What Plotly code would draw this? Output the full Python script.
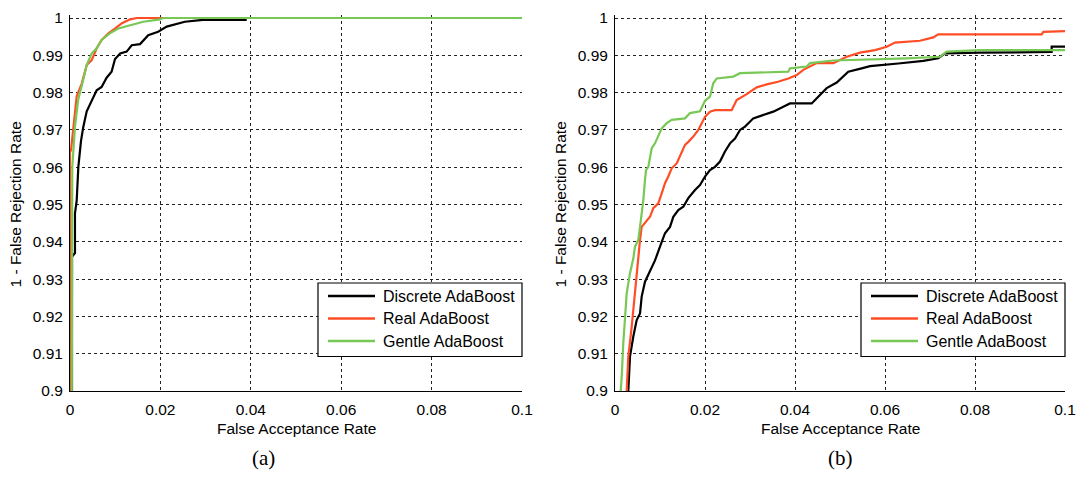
import plotly.graph_objects as go

# ---------------- data ----------------
series_names = ["Discrete AdaBoost", "Real AdaBoost", "Gentle AdaBoost"]
series_colors = ["#000000", "#FF4D26", "#78C855"]

# panel (a)
a_disc_x = [0.00044, 0.00044, 0.0011, 0.0011, 0.00148, 0.00184, 0.00243, 0.00294, 0.0037, 0.0048,
            0.0059, 0.0070, 0.0081, 0.0092, 0.00996, 0.0111, 0.01254, 0.01365, 0.0155, 0.0173,
            0.0195, 0.0214, 0.0254, 0.0294, 0.0391]
a_disc_y = [0.9, 0.936, 0.937, 0.9476, 0.951, 0.96, 0.967, 0.9708, 0.975, 0.978,
            0.9806, 0.9815, 0.984, 0.9856, 0.989, 0.9905, 0.991, 0.9927, 0.993, 0.9954,
            0.9963, 0.9977, 0.999, 0.9995, 0.9995]
a_real_x = [0.0, 0.0, 0.00022, 0.00074, 0.00148, 0.0026, 0.0037, 0.0048, 0.0059, 0.0070,
            0.0085, 0.0100, 0.0115, 0.0133, 0.0148, 0.1]
a_real_y = [0.9, 0.9645, 0.9645, 0.971, 0.979, 0.9824, 0.9874, 0.9887, 0.9919, 0.9941,
            0.9959, 0.9972, 0.9986, 0.99965, 1.0, 1.0]
a_gent_x = [0.0004, 0.0004, 0.0005, 0.0011, 0.0018, 0.0029, 0.0037, 0.0048, 0.0059, 0.0070,
            0.0088, 0.0107, 0.0133, 0.0162, 0.0199, 0.0206, 0.1]
a_gent_y = [0.9, 0.9457, 0.96, 0.9708, 0.978, 0.9833, 0.9874, 0.9905, 0.9919, 0.9941,
            0.9959, 0.9972, 0.9981, 0.999, 0.99965, 1.0, 1.0]

# panel (b)
b_disc_x = [0.00296, 0.00333, 0.00407, 0.00482, 0.00556, 0.00593, 0.00667, 0.00778, 0.00889, 0.01,
            0.01111, 0.01222, 0.01296, 0.01407, 0.01518, 0.01629, 0.01778, 0.01889, 0.02, 0.02111,
            0.02222, 0.02333, 0.02444, 0.02556, 0.02667, 0.02778, 0.02889, 0.03073, 0.03296, 0.03518,
            0.0374, 0.03889, 0.04371, 0.04556, 0.04704, 0.04927, 0.05184, 0.05482, 0.05667, 0.06296,
            0.06851, 0.07184, 0.07333, 0.08111, 0.09704, 0.09704, 0.1]
b_disc_y = [0.9, 0.9092, 0.9146, 0.919, 0.9208, 0.9253, 0.9293, 0.932, 0.935, 0.9387,
            0.9423, 0.944, 0.9467, 0.9485, 0.9494, 0.9517, 0.9539, 0.9552, 0.9575, 0.9592,
            0.9601, 0.9615, 0.9642, 0.9664, 0.9677, 0.97, 0.9709, 0.9731, 0.974, 0.9749,
            0.9762, 0.9771, 0.9771, 0.9794, 0.9812, 0.9827, 0.9856, 0.9865, 0.9871, 0.9878,
            0.9885, 0.9892, 0.9905, 0.9907, 0.9909, 0.9923, 0.9923]
b_real_x = [0.0026, 0.00296, 0.00371, 0.00407, 0.00444, 0.00482, 0.00518, 0.00556, 0.00593, 0.00667,
            0.00778, 0.00851, 0.00962, 0.01038, 0.01111, 0.01184, 0.0126, 0.01371, 0.01444, 0.01556,
            0.01629, 0.0174, 0.01851, 0.01927, 0.02, 0.02111, 0.02222, 0.02593, 0.02704, 0.02927,
            0.03149, 0.03371, 0.03622, 0.03851, 0.04038, 0.04184, 0.04333, 0.04482, 0.04851, 0.05149,
            0.05444, 0.05778, 0.06038, 0.06222, 0.06778, 0.07073, 0.07184, 0.09482, 0.09518, 0.1]
b_real_y = [0.9, 0.9092, 0.9172, 0.9217, 0.928, 0.9324, 0.9369, 0.9405, 0.944, 0.945,
            0.9467, 0.949, 0.9503, 0.953, 0.9557, 0.9575, 0.9597, 0.961, 0.9628, 0.966,
            0.9668, 0.9682, 0.97, 0.9718, 0.9735, 0.9749, 0.9753, 0.9753, 0.978, 0.9796,
            0.9814, 0.9822, 0.9829, 0.9838, 0.9847, 0.9861, 0.987, 0.9879, 0.9879, 0.9896,
            0.9907, 0.9914, 0.9923, 0.9934, 0.9939, 0.9948, 0.9956, 0.9956, 0.9963, 0.9965]
b_gent_x = [0.00127, 0.00149, 0.00184, 0.00222, 0.0026, 0.00333, 0.00407, 0.00444, 0.00518, 0.00556,
            0.00593, 0.00629, 0.00667, 0.00689, 0.0074, 0.00778, 0.00816, 0.00889, 0.00962, 0.01038,
            0.01149, 0.0126, 0.01556, 0.01667, 0.01889, 0.02, 0.02111, 0.02184, 0.0226, 0.02629,
            0.02778, 0.03851, 0.03889, 0.0426, 0.04333, 0.04851, 0.06482, 0.07222, 0.0737, 0.08111, 0.1]
b_gent_y = [0.9, 0.9038, 0.9128, 0.919, 0.9262, 0.9316, 0.9355, 0.9387, 0.9405, 0.944,
            0.9476, 0.9512, 0.9566, 0.9592, 0.9601, 0.9628, 0.9651, 0.9664, 0.9682, 0.9704,
            0.9718, 0.9727, 0.9731, 0.9745, 0.975, 0.9778, 0.9789, 0.9825, 0.9838, 0.9843,
            0.9852, 0.9856, 0.9865, 0.987, 0.9879, 0.9886, 0.9892, 0.9896, 0.991, 0.9914, 0.9914]

x_tick_vals = [0, 0.02, 0.04, 0.06, 0.08, 0.1]
x_tick_text = ["0", "0.02", "0.04", "0.06", "0.08", "0.1"]
y_tick_vals = [0.9, 0.91, 0.92, 0.93, 0.94, 0.95, 0.96, 0.97, 0.98, 0.99, 1.0]
y_tick_text = ["0.9", "0.91", "0.92", "0.93", "0.94", "0.95", "0.96", "0.97", "0.98", "0.99", "1"]

x_title = "False Acceptance Rate"
y_title = "1 - False Rejection Rate"
captions = ["(a)", "(b)"]

# ---------------- figure ----------------
W, H = 1077, 479
FONT = "Liberation Sans, Arial, sans-serif"
FS = 15.5
LEG_FS = 16

fig = go.Figure()

panels = [
    ([(a_disc_x, a_disc_y), (a_real_x, a_real_y), (a_gent_x, a_gent_y)], "x", "y"),
    ([(b_disc_x, b_disc_y), (b_real_x, b_real_y), (b_gent_x, b_gent_y)], "x2", "y2"),
]
for curves, xa, ya in panels:
    for (cx, cy), name, col in zip(curves, series_names, series_colors):
        fig.add_trace(go.Scatter(x=cx, y=cy, mode="lines", name=name, xaxis=xa, yaxis=ya,
                                 showlegend=False, line=dict(color=col, width=2.2)))

# pixel layout
left_px = [(70, 522), (615, 1065)]
top_px, bot_px = 18, 391
pad_top = 3            # extra room above y=1 so the top curves are not clipped
px_per_unit_y = (bot_px - top_px) / 0.1

def px_x(p):
    return p / W

def px_y(p):
    return 1 - p / H

axis_common = dict(showgrid=True, gridcolor="#222222", griddash="dot", gridwidth=1,
                   showline=True, linecolor="black", linewidth=1, zeroline=False,
                   automargin=False, ticks="",
                   tickfont=dict(family=FONT, size=FS, color="black"))

layout = dict(width=W, height=H, autosize=False,
              margin=dict(l=0, r=0, t=0, b=0, pad=0, autoexpand=False),
              paper_bgcolor="white", plot_bgcolor="white", showlegend=False,
              font=dict(family=FONT, size=FS, color="black"))

for i, (l, r) in enumerate(left_px):
    sfx = "" if i == 0 else "2"
    layout["xaxis" + sfx] = dict(axis_common, domain=[px_x(l), px_x(r)], range=[0, 0.1],
                                 tickvals=x_tick_vals, ticktext=x_tick_text,
                                 anchor="y" + sfx, ticklabelstandoff=4)
    layout["yaxis" + sfx] = dict(axis_common, domain=[px_y(bot_px), px_y(top_px - pad_top)],
                                 range=[0.9, 1.0 + pad_top / px_per_unit_y],
                                 tickvals=y_tick_vals, ticktext=y_tick_text,
                                 anchor="x" + sfx, ticklabelstandoff=3)

fig.update_layout(**layout)

annotations = []
shapes = []
for i, (l, r) in enumerate(left_px):
    cx = (l + r) / 2
    annotations.append(dict(text=x_title, x=px_x(cx), y=px_y(428), xref="paper", yref="paper",
                            showarrow=False, xanchor="center", yanchor="middle",
                            font=dict(family=FONT, size=FS, color="black")))
    annotations.append(dict(text=y_title, x=px_x(l - 55), y=px_y((top_px + bot_px) / 2),
                            xref="paper", yref="paper", showarrow=False, textangle=-90,
                            xanchor="center", yanchor="middle",
                            font=dict(family=FONT, size=FS, color="black")))
    # legend box (drawn in the lower-right corner of each panel)
    bx0, bx1, by0, by1 = r - 204, r, 283, 356.5
    shapes.append(dict(type="rect", xref="paper", yref="paper",
                       x0=px_x(bx0), x1=px_x(bx1), y0=px_y(by1), y1=px_y(by0),
                       fillcolor="white", line=dict(color="black", width=1.2), layer="above"))
    for k, (name, col) in enumerate(zip(series_names, series_colors)):
        ry = 296 + 22.5 * k
        shapes.append(dict(type="line", xref="paper", yref="paper",
                           x0=px_x(bx0 + 10), x1=px_x(bx0 + 57), y0=px_y(ry), y1=px_y(ry),
                           line=dict(color=col, width=2.6), layer="above"))
        annotations.append(dict(text=name, x=px_x(bx0 + 63), y=px_y(ry), xref="paper",
                                yref="paper", showarrow=False, xanchor="left", yanchor="middle",
                                font=dict(family=FONT, size=LEG_FS, color="black")))

cap_x = [263, 840]
for c, cxp in zip(captions, cap_x):
    annotations.append(dict(text=c, x=px_x(cxp), y=px_y(458), xref="paper", yref="paper",
                            showarrow=False, xanchor="center", yanchor="middle",
                            font=dict(family="Liberation Serif, Times New Roman, serif",
                                      size=21, color="black")))
fig.update_layout(annotations=annotations, shapes=shapes)

fig.write_html("out.html", config={"displayModeBar": False},
               post_script="document.body.style.margin='0';document.body.style.overflow='hidden';")
